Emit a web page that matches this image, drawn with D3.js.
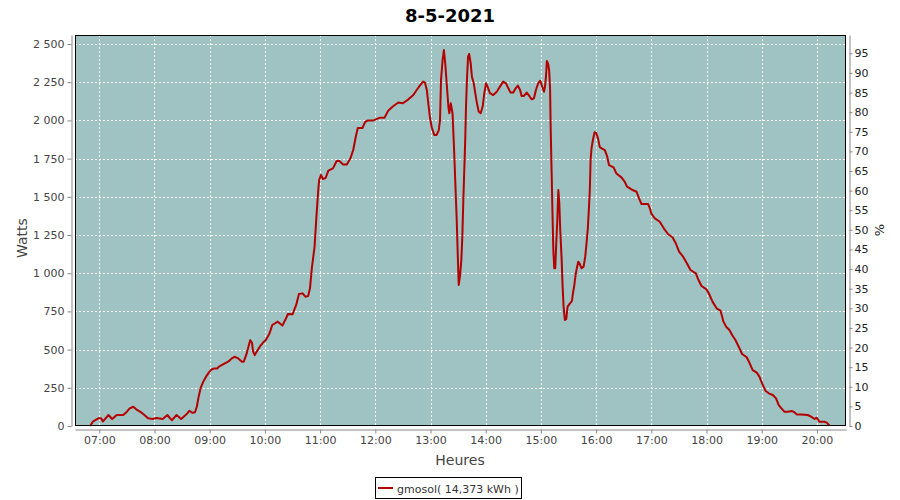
<!DOCTYPE html>
<html><head><meta charset="utf-8">
<script src="https://cdn.jsdelivr.net/npm/d3@7/dist/d3.min.js"></script>
<style>
body{margin:0;background:#fff;}
text{font-family:"DejaVu Sans",sans-serif;}
</style></head>
<body><svg id="c" width="900" height="500"></svg>
<script>
const title = "8-5-2021";
const legendLabel = "gmosol( 14,373 kWh )";
const leftTicks = [0,250,500,750,1000,1250,1500,1750,2000,2250,2500];
const rightTicks = [0,5,10,15,20,25,30,35,40,45,50,55,60,65,70,75,80,85,90,95];
const hourTicks = ["07:00","08:00","09:00","10:00","11:00","12:00","13:00","14:00","15:00","16:00","17:00","18:00","19:00","20:00"];
const times = [
"06:50:00","06:53:00","06:59:00","07:02:00","07:04:00","07:10:00","07:14:00","07:19:00","07:26:00","07:30:00",
"07:33:00","07:37:00","07:41:00","07:46:00","07:49:00","07:53:00","07:58:00","08:02:00","08:09:00","08:14:00",
"08:17:00","08:19:00","08:24:00","08:29:00","08:35:00","08:38:00","08:41:00","08:44:00","08:46:00","08:48:00",
"08:50:00","08:53:00","08:56:00","08:59:00","09:02:00","09:05:00","09:08:00","09:11:00","09:15:00","09:20:00",
"09:24:00","09:27:00","09:31:00","09:35:00","09:37:00","09:40:00","09:42:00","09:44:00","09:46:00","09:47:00",
"09:49:00","09:51:00","09:55:00","09:58:00","10:01:00","10:05:00","10:08:00","10:14:00","10:19:00","10:23:00",
"10:25:00","10:30:00","10:34:00","10:37:00","10:41:00","10:44:00","10:47:00","10:49:00","10:51:00","10:54:00",
"10:56:00","10:58:00","10:59:00","11:01:00","11:03:00","11:06:00","11:09:00","11:14:00","11:18:00","11:21:00",
"11:25:00","11:29:00","11:33:00","11:36:00","11:39:00","11:41:00","11:46:00","11:49:00","11:52:00","11:58:00",
"12:05:00","12:10:00","12:14:00","12:19:00","12:25:00","12:30:00","12:36:00","12:41:00","12:45:00","12:49:00",
"12:52:00","12:54:00","12:56:00","12:58:00","12:59:30","13:01:20","13:04:00","13:06:40","13:09:00","13:10:20",
"13:11:25","13:13:10","13:14:35","13:16:00","13:17:35","13:19:25","13:20:25","13:22:00","13:23:00","13:24:00",
"13:25:30","13:27:00","13:28:30","13:29:35","13:30:40","13:32:00","13:33:30","13:34:35","13:35:40","13:36:50",
"13:37:50","13:38:35","13:39:40","13:40:50","13:42:00","13:43:40","13:45:00","13:47:00","13:48:40","13:50:30",
"13:52:25","13:54:30","13:56:40","13:58:30","14:00:20","14:02:00","14:04:35","14:08:10","14:12:00","14:15:30",
"14:19:00","14:22:00","14:24:35","14:27:00","14:30:00","14:32:35","14:35:00","14:37:20","14:39:00","14:41:35",
"14:44:30","14:47:20","14:50:00","14:52:25","14:54:35","14:57:00","14:59:20","15:01:25","15:03:20","15:04:25",
"15:05:30","15:06:30","15:08:00","15:09:00","15:10:00","15:10:35","15:11:40","15:12:40","15:13:30","15:14:30",
"15:15:35","15:16:40","15:17:50","15:18:55","15:20:00","15:21:00","15:22:30","15:23:35","15:24:40","15:26:00",
"15:27:35","15:29:00","15:31:10","15:33:40","15:34:50","15:36:20","15:37:40","15:39:00","15:40:35","15:42:00",
"15:44:10","15:46:25","15:48:10","15:49:35","15:51:00","15:52:05","15:53:10","15:54:00","15:55:00","15:56:30",
"15:58:20","16:00:10","16:02:00","16:04:00","16:06:00","16:09:30","16:12:00","16:14:00","16:19:00","16:22:00",
"16:27:30","16:31:00","16:33:40","16:38:30","16:44:00","16:46:40","16:49:20","16:56:30","16:58:25","17:00:10",
"17:03:50","17:09:10","17:13:35","17:18:20","17:23:00","17:26:35","17:30:10","17:34:35","17:38:20","17:42:35",
"17:48:25","17:50:55","17:54:35","18:00:00","18:02:50","18:06:30","18:10:55","18:15:10","18:16:30","18:18:25",
"18:21:20","18:24:55","18:27:50","18:31:25","18:35:00","18:38:40","18:43:40","18:46:35","18:50:10","18:54:35",
"18:57:30","19:00:25","19:04:00","19:07:35","19:12:00","19:15:35","19:18:30","19:21:25","19:24:35","19:28:10",
"19:33:00","19:35:30","19:38:00","19:42:50","19:50:00","19:53:40","19:57:20","19:59:50","20:02:40","20:08:00",
"20:10:40","20:13:35"];
const watts = [
0,28,50,50,30,72,46,72,72,94,
115,126,105,87,72,50,46,52,46,72,
50,38,72,46,78,100,87,90,126,192,
246,290,323,349,370,377,377,392,405,421,
442,453,442,421,421,470,515,562,545,490,
464,486,524,546,563,606,661,683,657,705,
733,731,792,864,868,846,850,901,1032,1174,
1370,1545,1610,1643,1617,1623,1671,1686,1734,1734,
1712,1712,1752,1806,1900,1950,1950,1990,2000,2000,
2018,2018,2064,2091,2117,2112,2138,2164,2199,2232,
2254,2247,2199,2091,2014,1955,1905,1905,1937,2003,
2265,2396,2461,2374,2243,2091,2047,2112,2080,2042,
1828,1588,1348,1130,923,977,1086,1239,1479,1697,
1893,2091,2276,2417,2435,2374,2286,2243,2178,2112,
2057,2047,2091,2178,2243,2221,2178,2166,2188,2221,
2254,2243,2210,2182,2182,2210,2228,2199,2160,2160,
2182,2160,2138,2145,2199,2243,2260,2221,2188,2221,
2286,2389,2367,2323,2199,1959,1654,1370,1152,1032,
1032,1196,1348,1545,1457,1283,1097,912,781,694,
701,781,799,818,869,923,988,1032,1075,1065,
1032,1043,1108,1196,1294,1414,1545,1741,1817,1872,
1922,1916,1884,1825,1817,1806,1765,1708,1693,1653,
1627,1599,1566,1548,1533,1490,1453,1453,1425,1388,
1359,1337,1294,1255,1235,1196,1141,1108,1069,1021,
999,960,916,894,864,814,770,755,727,683,
650,628,596,563,519,471,450,415,366,349,
323,279,231,214,203,181,137,116,94,94,
98,90,76,76,72,61,46,54,28,28,
22,3];

const svg = d3.select("#c");
const L = 75, R = 846, T = 35, B = 426;
const parse = d3.timeParse("%H:%M:%S");
const parseH = d3.timeParse("%H:%M");
const x = d3.scaleTime().domain([parse("06:33:36"), parse("20:31:36")]).range([L, R]);
const y = d3.scaleLinear().domain([0, 2559]).range([B, T]);
const y2 = d3.scaleLinear().domain([0, 99.66]).range([B, T]);
const loc = d3.formatLocale({decimal:",", thousands:"\u00a0", grouping:[3], currency:["",""]});
const fmt = loc.format(",d");

svg.append("rect").attr("x", L).attr("y", T).attr("width", R-L).attr("height", B-T).attr("fill", "#9fc2c2");

const hours = hourTicks.map(parseH);
const grid = svg.append("g").attr("stroke", "#fff").attr("stroke-width", 1).attr("stroke-dasharray", "2,2");
grid.selectAll("line.v").data(hours).enter().append("line")
  .attr("x1", d => Math.round(x(d)) + 0.5).attr("x2", d => Math.round(x(d)) + 0.5)
  .attr("y1", T).attr("y2", B);
grid.selectAll("line.h").data(leftTicks).enter().append("line")
  .attr("y1", d => Math.round(y(d)) + 0.5).attr("y2", d => Math.round(y(d)) + 0.5)
  .attr("x1", L).attr("x2", R);

const data = times.map((t, i) => ({t: parse(t), w: watts[i]}));
svg.append("path").datum(data)
  .attr("fill", "none").attr("stroke", "#b40000").attr("stroke-width", 2).attr("stroke-linejoin", "round")
  .attr("d", d3.line().x(d => x(d.t)).y(d => y(d.w)));

svg.append("rect").attr("x", L + 0.5).attr("y", T + 0.5).attr("width", R-L-1).attr("height", B-T-1)
  .attr("fill", "none").attr("stroke", "#000").attr("stroke-width", 1);

function styleAxis(g, col) {
  g.select(".domain").attr("stroke", "#888");
  g.selectAll(".tick line").attr("stroke", "#888");
  g.selectAll(".tick text").attr("fill", col).style("font-size", "11px").style("font-family", "DejaVu Sans, sans-serif");
}
const ax = svg.append("g").attr("transform", `translate(${L-3.5},0)`)
  .call(d3.axisLeft(y).tickValues(leftTicks).tickFormat(fmt).tickSize(4).tickSizeOuter(0).tickPadding(3));
styleAxis(ax, "#444");
const ax2 = svg.append("g").attr("transform", `translate(${R+3.5},0)`)
  .call(d3.axisRight(y2).tickValues(rightTicks).tickSize(3).tickSizeOuter(0).tickPadding(2));
styleAxis(ax2, "#222");
const axb = svg.append("g").attr("transform", `translate(0,${B+3.5})`)
  .call(d3.axisBottom(x).tickValues(hours).tickFormat(d3.timeFormat("%H:%M")).tickSize(4).tickSizeOuter(0).tickPadding(3));
styleAxis(axb, "#444");

svg.append("text").attr("x", 450).attr("y", 22).attr("text-anchor", "middle")
  .style("font-size", "18px").style("font-weight", "bold").attr("fill", "#000").text(title);
svg.append("text").attr("transform", "translate(27,238) rotate(-90)").attr("text-anchor", "middle")
  .style("font-size", "14px").attr("fill", "#444").text("Watts");
svg.append("text").attr("transform", "translate(884,230) rotate(-90)").attr("text-anchor", "middle")
  .style("font-size", "13px").attr("fill", "#222").text("%");
svg.append("text").attr("x", 460).attr("y", 465).attr("text-anchor", "middle")
  .style("font-size", "14px").attr("fill", "#444").text("Heures");

const lg = svg.append("g");
lg.append("rect").attr("x", 375.5).attr("y", 477.5).attr("width", 146).attr("height", 21)
  .attr("fill", "#fff").attr("stroke", "#000");
lg.append("line").attr("x1", 378).attr("x2", 393).attr("y1", 488).attr("y2", 488)
  .attr("stroke", "#b40000").attr("stroke-width", 2);
lg.append("text").attr("x", 397).attr("y", 492.5).style("font-size", "11px").attr("fill", "#333").text(legendLabel);
</script></body></html>
